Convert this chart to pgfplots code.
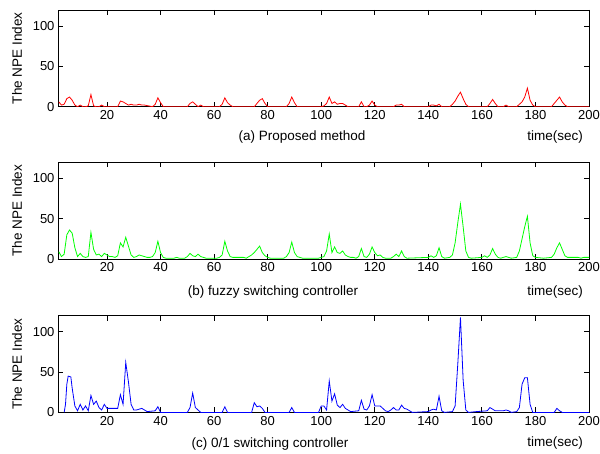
\documentclass[border=0pt]{standalone}
\usepackage{fontspec}
\setmainfont{Liberation Sans}
\usepackage{pgfplots}
\pgfplotsset{compat=1.18}
\pgfplotsset{npe/.style={
  width=531pt, height=96.7pt, scale only axis,
  xmin=1.7, xmax=200, ymin=0, ymax=120,
  xtick={20,40,...,200}, ytick={0,50,100},
  tick align=inside, major tick length=5pt,
  axis line style={line width=0.8pt},
  tick style={black, line width=0.8pt},
  ticklabel style={font=\fontsize{13}{15}\selectfont},
  /pgf/number format/assume math mode=true,
  ylabel={The NPE Index},
  ylabel style={font=\fontsize{13.5}{15}\selectfont, at={(axis description cs:-0.077,0.5)}, anchor=center},
  anchor=north west,
  every axis plot/.append style={line width=0.8pt, no markers, sharp plot},
}}
\begin{document}
\begin{tikzpicture}
\begin{axis}[npe, at={(0pt,0pt)}]
\addplot[color={rgb,255:red,255;green,0;blue,0}] table {
x y
2 6
3 2
4 3
5 10
6 12
7 8
8 2
9 0
10 2
11 0
12 0
13 1
14 15
15 1
16 0
17 0
18 2
19 0
24 0
25 7
26 6
27 4
28 2
29 3
30 2
31 2
32 3
33 2
34 2
37 0
38 3
39 11
40 5
41 0
50 0
51 4
52 6
53 3
54 0
55 2
56 0
62 0
63 3
64 11
65 5
66 2
67 0
75 0
76 4
77 8
78 10
79 4
80 0
87 0
88 4
89 12
90 5
91 0
100 0
101 1
102 4
103 12
104 4
105 6
106 3
107 4
108 4
109 2
110 0
114 0
115 6
116 0
117 0
118 2
119 7
120 2
121 0
127 0
128 2
129 2
130 3
131 0
140 0
141 2
142 2
143 1
144 3
145 0
148 0
149 3
150 7
151 13
152 18
153 10
154 3
155 0
162 0
163 4
164 9
165 4
166 0
168 0
169 2
170 0
173 0
174 3
175 6
176 12
177 23
178 8
179 2
180 0
186 0
187 4
188 8
189 12
190 6
191 2
192 0
200 0
};
\end{axis}
\begin{axis}[npe, at={(0pt,-152.3pt)}]
\addplot[color={rgb,255:red,0;green,255;blue,0}] table {
x y
2 9
3 3
4 6
5 30
6 36
7 32
8 14
9 3
10 7
11 3
12 2
13 3
14 33
15 12
16 5
17 6
18 3
19 7
20 5
21 3
22 3
23 2
24 4
25 20
26 15
27 27
28 16
29 5
30 2
31 3
32 5
33 4
34 3
35 2
36 2
37 3
38 8
39 22
40 8
41 2
42 1
45 1
46 2
47 1
49 1
50 3
51 7
52 4
53 3
54 6
55 3
56 2
57 1
61 1
62 2
63 5
64 22
65 10
66 3
67 2
70 2
71 2
72 1
73 3
74 5
75 8
76 12
77 16
78 8
79 4
80 2
81 1
86 1
87 3
88 8
89 21
90 8
91 3
92 2
93 1
99 1
100 2
101 3
102 10
103 31
104 8
105 15
106 8
107 7
108 10
109 5
110 3
111 2
112 2
113 1
114 3
115 13
116 3
117 2
118 6
119 15
120 8
121 4
122 5
123 2
124 1
126 1
127 3
128 6
129 3
130 10
131 3
132 1
140 2
141 4
142 2
143 4
144 14
145 3
146 1
148 2
149 5
150 20
151 45
152 68
153 40
154 10
155 2
156 1
160 2
161 4
162 2
163 5
164 13
165 6
166 2
167 1
168 2
169 3
170 2
171 1
173 2
174 10
175 25
176 40
177 53
178 20
179 4
180 2
183 1
186 2
187 6
188 14
189 20
190 12
191 4
192 2
196 2
197 1
198 2
200 2
};
\end{axis}
\begin{axis}[npe, at={(0pt,-305.7pt)}]
\addplot[color={rgb,255:red,0;green,0;blue,255}] table {
x y
4 0
4.5 10
5 35
5.5 45
6.5 44
7 30
8 8
9 2
10 10
11 3
12 8
13 2
14 21
15 10
16 14
17 6
18 3
19 10
20 5
21 5
24 5
25 22
26 10
27 62
28 38
29 10
30 3
31 3
32 4
33 5
34 3
35 1
38 2
39 7
40 0
50 0
51 6
52 24
53 6
54 3
55 0
63 0
64 7
65 0
74 0
75 12
76 7
77 8
78 5
79 0
88 0
89 6
90 0
99 0
100 8
101 8
102 3
103 39
104 14
105 23
106 9
107 6
108 10
109 5
110 3
111 1
114 2
115 15
116 4
117 3
118 8
119 22
120 8
121 8
122 8
123 5
124 2
125 1
126 3
127 6
128 3
129 3
130 9
131 5
132 4
133 2
134 0
140 1
141 3
142 4
143 3
144 20
145 2
146 0
149 1
150 8
151 60
152 118
153 40
154 3
155 0
158 1
162 2
163 6
164 4
165 2
166 2
168 2
169 3
170 2
171 0
173 1
174 6
175 35
176 43
177 43
178 10
179 0
187 0
188 5
189 2
190 0
200 0
};
\end{axis}
\begin{scope}[every node/.style={font=\fontsize{13.5}{15}\selectfont, inner sep=0pt}]
\node[anchor=center] at (244pt,-127pt) {(a) Proposed method};
\node[anchor=east] at (525pt,-126.7pt) {time(sec)};
\node[anchor=center] at (215pt,-281.7pt) {(b) fuzzy switching controller};
\node[anchor=east] at (525pt,-281.7pt) {time(sec)};
\node[anchor=center] at (212pt,-434pt) {(c) 0/1 switching controller};
\node[anchor=east] at (525pt,-433.3pt) {time(sec)};
\end{scope}
\pgfresetboundingbox
\path[use as bounding box] (-58pt,10pt) rectangle (542pt,-444pt);
\end{tikzpicture}
\end{document}
